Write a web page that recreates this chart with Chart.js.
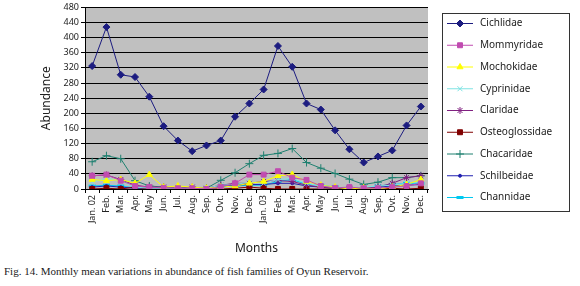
<!DOCTYPE html>
<html>
<head>
<meta charset="utf-8">
<script src="https://cdn.jsdelivr.net/npm/chart.js@4.4.1/dist/chart.umd.min.js"></script>
<style>
  html, body { margin: 0; padding: 0; background: #fff; }
  #wrap { position: relative; width: 580px; height: 286px; }
  #chartBox { position: absolute; left: 0; top: 0; width: 580px; height: 256px; }
  #caption { position: absolute; left: 4px; top: 265px; font: 11px "Liberation Serif", "Times New Roman", serif; color: #222; white-space: nowrap; }
</style>
</head>
<body>
<div id="wrap">
  <div id="chartBox"><canvas id="fishChart"></canvas></div>
  <div id="caption">Fig. 14. Monthly mean variations in abundance of fish families of Oyun Reservoir.</div>
</div>
<script>
// Month labels (Jan 2002 - Dec 2003)
const months = ['Jan. 02', 'Feb.', 'Mar.', 'Apr.', 'May', 'Jun.', 'Jul.', 'Aug.', 'Sep.', 'Ovt.', 'Nov.', 'Dec.',
                'Jan. 03', 'Feb.', 'Mar.', 'Apr.', 'May', 'Jun.', 'Jul.', 'Aug.', 'Sep.', 'Ovt.', 'Nov.', 'Dec.'];

// Abundance per family
const cichlidae      = [325, 428, 302, 296, 244, 166, 128, 100, 115, 128, 191, 226, 263, 378, 323, 226, 210, 155, 105, 70, 86, 102, 168, 218];
const mommyridae     = [35, 38, 22, 8, 5, 3, 2, 2, 0, 5, 15, 38, 38, 47, 30, 24, 8, 3, 5, 2, 2, 5, 8, 15];
const mochokidae     = [25, 22, 25, 15, 38, 5, 8, 5, 2, 5, 8, 15, 20, 35, 38, 20, 10, 5, 0, 3, 0, 5, 12, 25];
const cyprinidae     = [18, 28, 22, 5, 2, 2, 2, 2, 2, 10, 12, 18, 15, 25, 28, 15, 8, 5, 3, 5, 8, 10, 15, 20];
const claridae       = [35, 37, 25, 10, 5, 5, 3, 5, 2, 10, 15, 15, 20, 22, 20, 10, 5, 2, 3, 2, 5, 15, 30, 35];
const osteoglossidae = [0, 2, 0, 5, 0, 0, 0, 0, 0, 0, 2, 5, 2, 0, 0, 0, 0, 0, 0, 0, 0, 2, 0, 2];
const chacaridae     = [72, 88, 80, 22, 8, 5, 3, 2, 2, 23, 43, 67, 89, 94, 107, 70, 55, 41, 26, 12, 18, 30, 30, 35];
const schilbeidae    = [5, 8, 5, 2, 2, 0, 0, 0, 0, 8, 10, 12, 12, 15, 15, 8, 5, 2, 0, 2, 5, 8, 10, 12];
const channidae      = [8, 10, 8, 3, 2, 2, 2, 2, 2, 5, 8, 10, 10, 20, 25, 12, 10, 5, 2, 2, 8, 12, 15, 15];

const yTicks = [0, 40, 80, 120, 160, 200, 240, 280, 320, 360, 400, 440, 480];

const families = [
    { label: 'Cichlidae',      data: cichlidae,      color: '#1c1c80', style: 'rectRot',  radius: 3.5, markerWidth: 1 },
    { label: 'Mommyridae',     data: mommyridae,     color: '#c04cb0', style: 'rect',     radius: 3.5, markerWidth: 1 },
    { label: 'Mochokidae',     data: mochokidae,     color: '#ffff00', style: 'triangle', radius: 3.5, markerWidth: 1 },
    { label: 'Cyprinidae',     data: cyprinidae,     color: '#7fe3e3', style: 'crossRot', radius: 3.5, markerWidth: 1 },
    { label: 'Claridae',       data: claridae,       color: '#802080', style: 'star',     radius: 3.5, markerWidth: 1 },
    { label: 'Osteoglossidae', data: osteoglossidae, color: '#800000', style: 'rect',     radius: 3.5, markerWidth: 1 },
    { label: 'Chacaridae',     data: chacaridae,     color: '#1f8070', style: 'cross',    radius: 4,   markerWidth: 1 },
    { label: 'Schilbeidae',    data: schilbeidae,    color: '#2020b0', style: 'circle',   radius: 1.5, markerWidth: 1 },
    { label: 'Channidae',      data: channidae,      color: '#00c8f0', style: 'line',     radius: 3.5, markerWidth: 3 }
];

// Gray plot area like the spreadsheet original
const plotBackground = {
    id: 'plotBackground',
    beforeDraw(chart) {
        const { ctx, chartArea: a } = chart;
        ctx.save();
        ctx.fillStyle = '#c0c0c0';
        ctx.fillRect(a.left, a.top, a.right - a.left, a.bottom - a.top);
        ctx.restore();
    }
};

// Boxed legend on the right, line + marker samples
const boxedLegend = {
    id: 'boxedLegend',
    afterDraw(chart) {
        const { ctx } = chart;
        const box = { x: 442.5, y: 13.5, w: 127, h: 198 };
        ctx.save();
        ctx.fillStyle = '#fff';
        ctx.fillRect(box.x, box.y, box.w, box.h);
        ctx.strokeStyle = '#333';
        ctx.lineWidth = 1;
        ctx.strokeRect(box.x, box.y, box.w, box.h);
        ctx.font = '10px "Noto Sans", sans-serif';
        ctx.textBaseline = 'middle';
        chart.data.datasets.forEach((ds, i) => {
            const y = 23.5 + i * 21.75;
            ctx.strokeStyle = ds.borderColor;
            ctx.lineWidth = 1;
            ctx.beginPath();
            ctx.moveTo(447, y);
            ctx.lineTo(473, y);
            ctx.stroke();
            ctx.fillStyle = ds.pointBackgroundColor;
            ctx.strokeStyle = ds.pointBorderColor;
            ctx.lineWidth = ds.pointBorderWidth;
            Chart.helpers.drawPoint(ctx, {
                pointStyle: ds.pointStyle,
                radius: ds.pointRadius,
                borderWidth: ds.pointBorderWidth,
                rotation: 0
            }, 460, y);
            ctx.fillStyle = '#222';
            ctx.fillText(ds.label, 480, y);
        });
        ctx.restore();
    }
};

const canvas = document.getElementById('fishChart');
canvas.chart = new Chart(canvas, {
    type: 'line',
    data: {
        labels: months,
        datasets: families.map(f => ({
            label: f.label,
            data: f.data,
            borderColor: f.color,
            backgroundColor: f.color,
            pointBackgroundColor: f.color,
            pointBorderColor: f.color,
            pointStyle: f.style,
            pointRadius: f.radius,
            borderWidth: 1,
            pointBorderWidth: f.markerWidth,
            tension: 0,
            fill: false
        }))
    },
    options: {
        responsive: true,
        maintainAspectRatio: false,
        animation: false,
        layout: {
            padding: { left: 39, right: 152, top: 2, bottom: 0 }
        },
        plugins: {
            legend: { display: false },
            tooltip: { enabled: false }
        },
        scales: {
            x: {
                offset: true,
                grid: {
                    offset: true,
                    drawOnChartArea: false,
                    color: '#000',
                    tickLength: 4
                },
                border: { color: '#000' },
                ticks: {
                    autoSkip: false,
                    maxRotation: 90,
                    minRotation: 90,
                    color: '#222',
                    font: { family: '"Noto Sans", sans-serif', size: 9 },
                    padding: 2
                },
                title: {
                    display: true,
                    text: 'Months',
                    color: '#222',
                    font: { family: '"Noto Sans", sans-serif', size: 12 },
                    padding: { top: 10, bottom: 0 }
                },
                afterFit: scale => { scale.height = 67; }
            },
            y: {
                min: 0,
                max: 480,
                afterBuildTicks: scale => { scale.ticks = yTicks.map(v => ({ value: v })); },
                grid: {
                    color: '#000',
                    lineWidth: 1,
                    tickLength: 4
                },
                border: { color: '#000' },
                ticks: {
                    color: '#222',
                    font: { family: '"Noto Sans", sans-serif', size: 9 },
                    padding: 2
                },
                title: {
                    display: true,
                    text: 'Abundance',
                    color: '#222',
                    font: { family: '"Noto Sans", sans-serif', size: 12 },
                    padding: { top: 0, bottom: 6 }
                },
                afterFit: scale => { scale.width = 46; }
            }
        }
    },
    plugins: [plotBackground, boxedLegend]
});
</script>
</body>
</html>
